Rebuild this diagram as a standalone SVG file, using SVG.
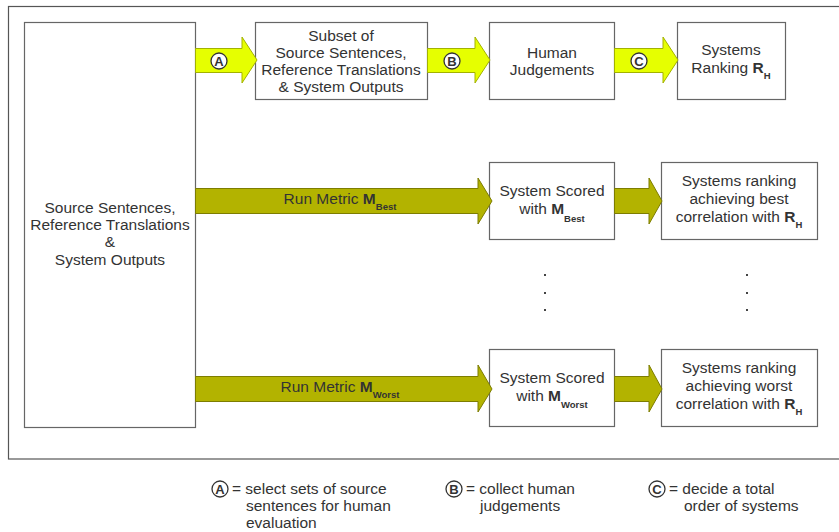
<svg xmlns="http://www.w3.org/2000/svg" width="839" height="532" viewBox="0 0 839 532">
<defs>
<style>
text{font-family:"Liberation Sans",Arial,sans-serif;font-size:15.5px;fill:#333}
.c{text-anchor:middle}
.box{fill:#fff;stroke:#666;stroke-width:1.2}
.y{fill:#e6ff00;stroke:#a3b200;stroke-width:1}
.o{fill:#b3b300;stroke:#7d7d00;stroke-width:1}
.b{font-weight:bold}
.sub{font-size:9.5px;font-weight:bold}
.circ{fill:#fff;stroke:#333;stroke-width:1.3}
.lt{font-size:13px;font-weight:bold;text-anchor:middle}
.dot{fill:#444}
</style>
</defs>
<rect x="8.5" y="6.5" width="840" height="452.5" fill="#fff" stroke="#555" stroke-width="1.2"/>

<g id="source">
<rect class="box" x="24.5" y="22.5" width="171" height="405"/>
<text class="c" x="110" y="213">Source Sentences,</text>
<text class="c" x="110" y="230">Reference Translations</text>
<text class="c" x="110" y="247">&amp;</text>
<text class="c" x="110" y="265">System Outputs</text>
</g>

<g id="subset">
<rect class="box" x="255.5" y="22.5" width="172" height="77"/>
<text class="c" x="341" y="41">Subset of</text>
<text class="c" x="341" y="58">Source Sentences,</text>
<text class="c" x="341" y="75">Reference Translations</text>
<text class="c" x="341" y="92">&amp; System Outputs</text>
</g>

<g id="human">
<rect class="box" x="489.5" y="22.5" width="125" height="77"/>
<text class="c" x="552" y="57.5">Human</text>
<text class="c" x="552" y="75">Judgements</text>
</g>

<g id="ranking">
<rect class="box" x="677.5" y="22.5" width="108" height="77"/>
<text class="c" x="731" y="55">Systems</text>
<text class="c" x="731" y="73">Ranking <tspan class="b">R</tspan><tspan class="sub" dy="6">H</tspan></text>
</g>

<g id="scored-best">
<rect class="box" x="489.5" y="162.5" width="125" height="77"/>
<text class="c" x="552" y="196">System Scored</text>
<text class="c" x="552" y="214">with <tspan class="b">M</tspan><tspan class="sub" dy="8">Best</tspan></text>
</g>

<g id="rank-best">
<rect class="box" x="661.5" y="162.5" width="156" height="77"/>
<text class="c" x="739" y="186">Systems ranking</text>
<text class="c" x="739" y="204">achieving best</text>
<text class="c" x="739" y="222">correlation with <tspan class="b">R</tspan><tspan class="sub" dy="6">H</tspan></text>
</g>

<g id="scored-worst">
<rect class="box" x="489.5" y="349.5" width="125" height="77"/>
<text class="c" x="552" y="383">System Scored</text>
<text class="c" x="552" y="401">with <tspan class="b">M</tspan><tspan class="sub" dy="7">Worst</tspan></text>
</g>

<g id="rank-worst">
<rect class="box" x="661.5" y="349.5" width="156" height="77"/>
<text class="c" x="739" y="373">Systems ranking</text>
<text class="c" x="739" y="391">achieving worst</text>
<text class="c" x="739" y="409">correlation with <tspan class="b">R</tspan><tspan class="sub" dy="6">H</tspan></text>
</g>

<g id="connectors">
<polygon class="y" points="195.5,48.5 242,48.5 242,37 257,60 242,83 242,72.5 195.5,72.5"/>
<polygon class="y" points="427.5,48.5 475,48.5 475,37 490,60 475,83 475,72.5 427.5,72.5"/>
<polygon class="y" points="614.5,48.5 663,48.5 663,37 678,60 663,83 663,72.5 614.5,72.5"/>
<circle class="circ" cx="219" cy="61" r="8"/>
<text class="lt" x="219" y="65.7">A</text>
<circle class="circ" cx="452" cy="61" r="8"/>
<text class="lt" x="452" y="65.7">B</text>
<circle class="circ" cx="639" cy="61" r="8"/>
<text class="lt" x="639" y="65.7">C</text>

<polygon class="o" points="195.5,188.5 478,188.5 478,178 492,201 478,224 478,213.5 195.5,213.5"/>
<text class="c" x="340" y="204">Run Metric <tspan class="b">M</tspan><tspan class="sub" dy="6">Best</tspan></text>
<polygon class="o" points="614.5,188.5 649,188.5 649,178 662,201 649,224 649,213.5 614.5,213.5"/>

<polygon class="o" points="195.5,376.5 478,376.5 478,365 492,389 478,412 478,401.5 195.5,401.5"/>
<text class="c" x="340" y="392">Run Metric <tspan class="b">M</tspan><tspan class="sub" dy="6">Worst</tspan></text>
<polygon class="o" points="614.5,376.5 649,376.5 649,365 662,389 649,412 649,401.5 614.5,401.5"/>
</g>

<g id="dots">
<rect class="dot" x="544" y="274" width="2" height="2"/>
<rect class="dot" x="544" y="292" width="2" height="2"/>
<rect class="dot" x="544" y="309" width="2" height="2"/>
<rect class="dot" x="746" y="274" width="2" height="2"/>
<rect class="dot" x="746" y="292" width="2" height="2"/>
<rect class="dot" x="746" y="309" width="2" height="2"/>
</g>

<g id="legend">
<circle class="circ" cx="220" cy="489" r="8"/>
<text class="lt" x="220" y="493.7">A</text>
<text x="232" y="494">= select sets of source</text>
<text x="246" y="511">sentences for human</text>
<text x="246" y="528">evaluation</text>
<circle class="circ" cx="454" cy="489" r="8"/>
<text class="lt" x="454" y="493.7">B</text>
<text x="466" y="494">= collect human</text>
<text x="480" y="511">judgements</text>
<circle class="circ" cx="657" cy="489" r="8"/>
<text class="lt" x="657" y="493.7">C</text>
<text x="669" y="494">= decide a total</text>
<text x="684" y="511">order of systems</text>
</g>
</svg>
